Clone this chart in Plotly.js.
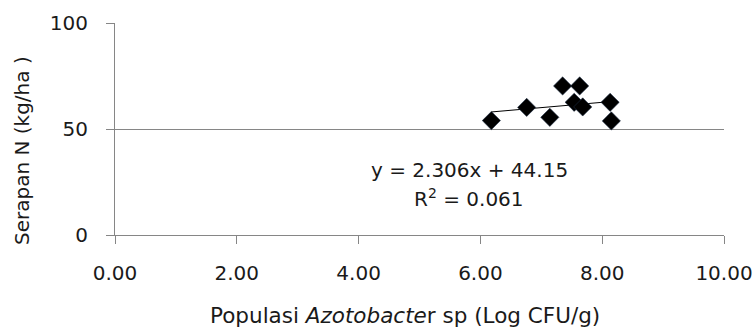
<!DOCTYPE html>
<html>
<head>
<meta charset="utf-8">
<script src="https://cdn.plot.ly/plotly-3.0.1.min.js"></script>
<style>html,body{margin:0;padding:0;background:#fff;}#chart{width:755px;height:331px;}</style>
</head>
<body>
<div id="chart"></div>
<script>
// Data
const populasi = [6.18, 6.76, 7.14, 7.35, 7.63, 7.54, 7.68, 8.13, 8.15];   // Log CFU/g
const serapanN = [53.96, 60.2, 55.5, 70.3, 70.3, 62.6, 60.4, 62.6, 53.8];   // kg/ha
const xTickVals = [0, 2, 4, 6, 8, 10];
const yTickVals = [0, 50, 100];
const eqText = "y = 2.306x + 44.15";
const r2Text = "R<sup>2</sup> = 0.061";

// Least-squares linear trendline computed from the data
const n = populasi.length;
const mx = populasi.reduce((a, b) => a + b, 0) / n;
const my = serapanN.reduce((a, b) => a + b, 0) / n;
let sxy = 0, sxx = 0;
for (let i = 0; i < n; i++) { sxy += (populasi[i] - mx) * (serapanN[i] - my); sxx += (populasi[i] - mx) ** 2; }
const slope = sxy / sxx, intercept = my - slope * mx;
const xMin = Math.min(...populasi), xMax = Math.max(...populasi);
const trendX = [xMin, xMax];
const trendY = trendX.map(x => intercept + slope * x);

const FONT = "DejaVu Sans, Verdana, sans-serif";
const GRAY = "#868686";
const TXT = "#1a1a1a";

const traces = [
  { x: trendX, y: trendY, mode: "lines", line: { color: "#000", width: 1 }, hoverinfo: "skip", showlegend: false },
  { x: populasi, y: serapanN, mode: "markers", showlegend: false,
    marker: { symbol: "diamond", size: 14, color: "#000", line: { color: "#1c2e44", width: 0.6 } } }
];

const layout = {
  width: 755, height: 331,
  margin: { l: 115, r: 31, t: 23, b: 96 },
  paper_bgcolor: "#fff", plot_bgcolor: "#fff",
  font: { family: FONT, size: 20, color: TXT },
  showlegend: false,
  xaxis: {
    range: [0, 10], tickvals: xTickVals, ticktext: xTickVals.map(v => v.toFixed(2)),
    showgrid: false, zeroline: false, showline: true, linecolor: GRAY, linewidth: 1,
    ticks: "outside", ticklen: 8, tickcolor: GRAY, tickwidth: 1,
    tickfont: { family: FONT, size: 20, color: TXT }, ticklabelstandoff: 12
  },
  yaxis: {
    range: [0, 100], tickvals: yTickVals,
    showgrid: true, gridcolor: GRAY, gridwidth: 1, zeroline: false,
    showline: true, linecolor: GRAY, linewidth: 1,
    ticks: "outside", ticklen: 8, tickcolor: GRAY, tickwidth: 1,
    tickfont: { family: FONT, size: 20, color: TXT }, ticklabelstandoff: 14
  },
  annotations: [
    { xref: "paper", yref: "paper", x: (469 - 115) / 609, y: (235 - 170) / 212, xanchor: "center", yanchor: "middle",
      text: eqText, showarrow: false, font: { family: FONT, size: 20, color: TXT } },
    { xref: "paper", yref: "paper", x: (469 - 115) / 609, y: (235 - 197.5) / 212, xanchor: "center", yanchor: "middle",
      text: r2Text, showarrow: false, font: { family: FONT, size: 20, color: TXT } },
    { xref: "paper", yref: "paper", x: (404.5 - 115) / 609, y: (235 - 315) / 212, xanchor: "center", yanchor: "middle",
      text: "Populasi <i>Azotobacte</i>r sp (Log CFU/g)", showarrow: false, font: { family: FONT, size: 21.5, color: TXT } },
    { xref: "paper", yref: "paper", x: (22 - 115) / 609, y: (235 - 151) / 212, xanchor: "center", yanchor: "middle",
      textangle: -90, text: "Serapan N (kg/ha )", showarrow: false, font: { family: FONT, size: 20, color: TXT } }
  ]
};

Plotly.newPlot("chart", traces, layout, { staticPlot: true, displayModeBar: false });
</script>
</body>
</html>
